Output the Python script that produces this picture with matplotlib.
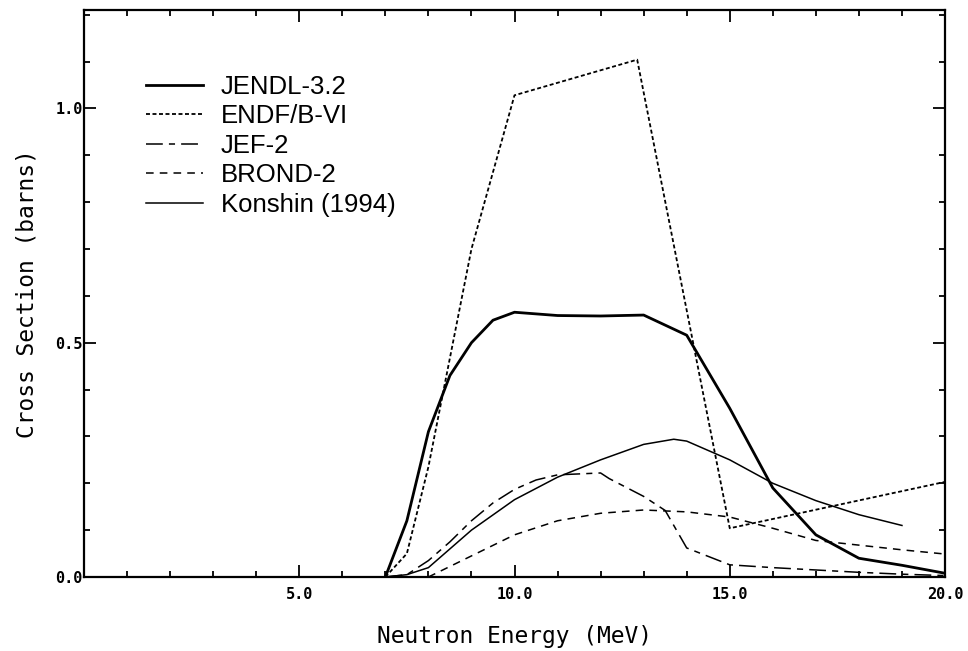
import matplotlib
matplotlib.use("Agg")
import matplotlib.pyplot as plt
from matplotlib.ticker import MultipleLocator, FixedLocator

# ---- data ----
jendl_x = [7.0, 7.5, 8.0, 8.5, 9.0, 9.5, 10.0, 11.0, 12.0, 13.0, 14.0, 15.0, 16.0, 17.0, 18.0, 19.0, 20.0]
jendl_y = [0.0, 0.12, 0.31, 0.43, 0.50, 0.548, 0.565, 0.558, 0.557, 0.559, 0.516, 0.36, 0.19, 0.09, 0.04, 0.025, 0.008]

endf_x = [7.0, 7.5, 8.0, 9.0, 10.0, 12.85, 15.0, 20.0]
endf_y = [0.0, 0.05, 0.235, 0.70, 1.028, 1.104, 0.104, 0.203]

jef_x = [7.0, 7.5, 8.0, 8.5, 9.0, 9.5, 10.0, 10.5, 11.0, 12.0, 12.2, 13.0, 13.5, 14.0, 15.0, 16.0, 17.0, 18.0, 19.0, 20.0]
jef_y = [0.0, 0.005, 0.035, 0.075, 0.12, 0.158, 0.187, 0.207, 0.218, 0.222, 0.21, 0.172, 0.142, 0.062, 0.026, 0.02, 0.015, 0.01, 0.006, 0.003]

brond_x = [8.0, 9.0, 10.0, 11.0, 12.0, 13.0, 14.0, 15.0, 16.0, 17.0, 18.0, 19.0, 20.0]
brond_y = [0.0, 0.045, 0.09, 0.12, 0.136, 0.143, 0.139, 0.128, 0.104, 0.078, 0.068, 0.058, 0.049]

konshin_x = [7.0, 7.5, 8.0, 9.0, 10.0, 11.0, 12.0, 13.0, 13.7, 14.0, 15.0, 16.0, 17.0, 18.0, 19.0]
konshin_y = [0.0, 0.005, 0.02, 0.10, 0.165, 0.213, 0.25, 0.283, 0.294, 0.29, 0.25, 0.2, 0.163, 0.133, 0.11]

labels = ["JENDL-3.2", "ENDF/B-VI", "JEF-2", "BROND-2", "Konshin (1994)"]
xtick_labels = ["5.0", "10.0", "15.0", "20.0"]
ytick_labels = ["0.0", "0.5", "1.0"]

# ---- figure ----
fig = plt.figure(figsize=(9.68, 6.51), dpi=100)
ax = fig.add_axes([84/968, 1-577/651, (945-84)/968, (577-10)/651])

k = "black"
ax.plot(jendl_x, jendl_y, color=k, lw=2.0, ls="-", label=labels[0])
ax.plot(endf_x, endf_y, color=k, lw=1.3, ls=(0, (2.2, 1.4)), label=labels[1])
ax.plot(jef_x, jef_y, color=k, lw=1.1, ls=(0, (11, 4, 4, 4)), label=labels[2])
ax.plot(brond_x, brond_y, color=k, lw=1.1, ls=(0, (5, 4)), label=labels[3])
ax.plot(konshin_x, konshin_y, color=k, lw=1.1, ls="-", label=labels[4])

ax.set_xlim(0, 20)
ax.set_ylim(0, 1.21)

ax.xaxis.set_major_locator(FixedLocator([5, 10, 15, 20]))
ax.set_xticklabels(xtick_labels)
ax.xaxis.set_minor_locator(MultipleLocator(1.0))
ax.yaxis.set_major_locator(FixedLocator([0.0, 0.5, 1.0]))
ax.set_yticklabels(ytick_labels)
ax.yaxis.set_minor_locator(MultipleLocator(0.1))

ax.tick_params(which="both", direction="in", top=True, right=True, width=1.3, colors=k)
ax.tick_params(which="major", length=8.5)
ax.tick_params(which="minor", length=4.5)
for lab in ax.get_xticklabels() + ax.get_yticklabels():
    lab.set_fontfamily("DejaVu Sans Mono")
    lab.set_fontweight("bold")
    lab.set_fontsize(11)
ax.tick_params(axis="y", pad=1)
ax.tick_params(axis="x", pad=7)

for s in ax.spines.values():
    s.set_linewidth(1.6)

ax.set_xlabel("Neutron Energy (MeV)", family="DejaVu Sans Mono", fontsize=16.5, labelpad=17)
ax.set_ylabel("Cross Section (barns)", family="DejaVu Sans Mono", fontsize=16.5, labelpad=12)

leg = ax.legend(loc="upper left", bbox_to_anchor=(146/968, 1-75/651), bbox_transform=fig.transFigure,
                frameon=False, prop={"family": "Liberation Sans", "size": 18.5},
                handlelength=2.2, handletextpad=0.72, labelspacing=0.21,
                borderpad=0, borderaxespad=0)

fig.savefig("out.png", dpi=100)
